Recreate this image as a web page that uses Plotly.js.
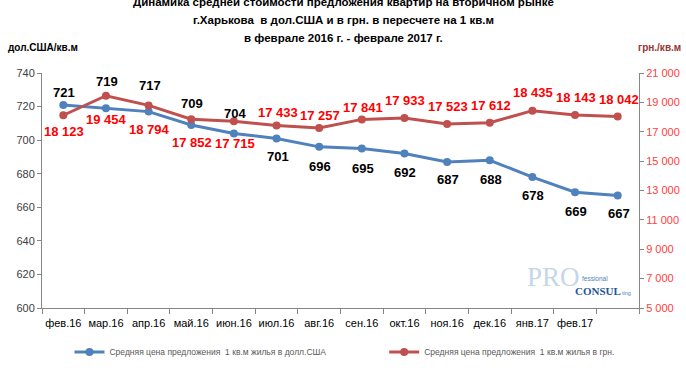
<!DOCTYPE html>
<html>
<head>
<meta charset="utf-8">
<script src="https://cdn.plot.ly/plotly-3.0.1.min.js"></script>
<style>html,body{margin:0;padding:0;background:#fff;}#chart{width:686px;height:386px;}</style>
</head>
<body>
<div id="chart"></div>
<script>
// ---- data ----
var categories = ['фев.16','мар.16','апр.16','май.16','июн.16','июл.16','авг.16','сен.16','окт.16','ноя.16','дек.16','янв.17','фев.17',' '];
var usdValues = [721, 719, 717, 709, 704, 701, 696, 695, 692, 687, 688, 678, 669, 667];
var uahValues = [18123, 19454, 18794, 17852, 17715, 17433, 17257, 17841, 17933, 17523, 17612, 18435, 18143, 18042];
var seriesNames = ['Средняя цена предложения  1 кв.м жилья в долл.США', 'Средняя цена предложения  1 кв.м жилья в грн.'];
var titleLines = ['Динамика средней стоимости предложения квартир на вторичном рынке', 'г.Харькова  в дол.США и в грн. в пересчете на 1 кв.м', 'в феврале 2016 г. - феврале 2017 г.'];
var leftAxisTitle = 'дол.США/кв.м';
var rightAxisTitle = 'грн./кв.м';

// ---- label placement (style: pixel shifts of each data label from its point, + is up) ----
var usdLabelShift = [12, 27, 26, 22, 20, -18, -20, -20, -19, -18, -19, -18, -19, -18];
var uahLabelShift = [-16, -24, -24, -23, -22, 13, 12, 12, 18, 18, 17, 18, 17, 17];

function fmt(v){ return String(v).replace(/\B(?=(\d{3})+(?!\d))/g, ' '); }

var F = 'Liberation Sans, Arial, sans-serif';

var traces = [
  {
    x: categories, y: usdValues, name: seriesNames[0], type: 'scatter', mode: 'lines+markers', legend: 'legend',
    line: {color: '#4F81BD', width: 3}, marker: {color: '#4F81BD', size: 8},
    cliponaxis: false, hoverinfo: 'skip'
  },
  {
    x: categories, y: uahValues, name: seriesNames[1], type: 'scatter', mode: 'lines+markers', yaxis: 'y2', legend: 'legend2',
    line: {color: '#C0504D', width: 3}, marker: {color: '#C0504D', size: 8},
    cliponaxis: false, hoverinfo: 'skip'
  }
];

var L = 41.5, R = 639, T = 73, B = 308;
function px(x){ return (x - L) / (R - L); }
function py(y){ return (B - y) / (B - T); }

var annotations = [];
usdValues.forEach(function(v, i){
  annotations.push({text: fmt(v), xref: 'x', yref: 'y', x: categories[i], y: v, yshift: usdLabelShift[i], xshift: 1,
    xanchor: 'center', yanchor: 'middle', showarrow: false,
    font: {family: F, size: 13, color: '#000000', weight: 'bold'}});
});
uahValues.forEach(function(v, i){
  annotations.push({text: fmt(v), xref: 'x', yref: 'y2', x: categories[i], y: v, yshift: uahLabelShift[i], xshift: 1,
    xanchor: 'center', yanchor: 'middle', showarrow: false,
    font: {family: F, size: 13, color: '#FF0000', weight: 'bold'}});
});
titleLines.forEach(function(t, i){
  annotations.push({text: t, xref: 'paper', yref: 'paper', x: px(343), y: py(2 + 18*i), xanchor: 'center', yanchor: 'middle',
    showarrow: false, font: {family: F, size: 11.5, color: '#000000', weight: 'bold'}});
});
annotations.push({text: leftAxisTitle, xref: 'paper', yref: 'paper', x: px(5), y: py(47), xanchor: 'left', yanchor: 'middle',
  showarrow: false, font: {family: F, size: 10, color: '#000000', weight: 'bold'}});
annotations.push({text: rightAxisTitle, xref: 'paper', yref: 'paper', x: px(683), y: py(47), xanchor: 'right', yanchor: 'middle',
  showarrow: false, font: {family: F, size: 10, color: '#953735', weight: 'bold'}});
// watermark logo
annotations.push({text: 'PRO', xref: 'paper', yref: 'paper', x: px(553), y: py(277), xanchor: 'center', yanchor: 'middle',
  showarrow: false, font: {family: 'Liberation Serif, serif', size: 27, color: '#C6D6EA'}});
annotations.push({text: 'fessional', xref: 'paper', yref: 'paper', x: px(595), y: py(278), xanchor: 'center', yanchor: 'middle',
  showarrow: false, font: {family: F, size: 6.5, color: '#4F81BD'}});
annotations.push({text: 'CONSUL', xref: 'paper', yref: 'paper', x: px(598), y: py(291), xanchor: 'center', yanchor: 'middle',
  showarrow: false, font: {family: 'Liberation Serif, serif', size: 11, color: '#1F5597', weight: 'bold'}});
annotations.push({text: 'ting', xref: 'paper', yref: 'paper', x: px(626), y: py(293), xanchor: 'center', yanchor: 'middle',
  showarrow: false, font: {family: F, size: 5.5, color: '#4F81BD'}});

var legendStyle = function(xpix){
  return {orientation: 'h', x: px(xpix), y: py(352), xanchor: 'left', yanchor: 'middle',
    font: {family: F, size: 8.5, color: '#595959'}, bgcolor: 'rgba(0,0,0,0)', borderwidth: 0};
};

var layout = {
  width: 686, height: 386,
  margin: {l: L, r: 686 - R, t: T, b: 386 - B, pad: 0},
  paper_bgcolor: '#ffffff', plot_bgcolor: '#ffffff',
  separators: ', ',
  font: {family: F, size: 11, color: '#404040'},
  showlegend: true,
  legend: legendStyle(69),
  legend2: legendStyle(384),
  xaxis: {type: 'category', range: [-0.5, 13.5], tickson: 'boundaries', ticks: 'outside', ticklen: 5, tickcolor: '#868686',
    tickangle: 0, ticklabelstandoff: 5, showline: true, linecolor: '#868686', linewidth: 1, showgrid: false, zeroline: false,
    tickfont: {family: F, size: 11, color: '#000000'}, fixedrange: true},
  yaxis: {range: [600, 740], dtick: 20, tick0: 600, ticks: 'outside', ticklen: 4, tickcolor: '#868686',
    showline: true, linecolor: '#868686', linewidth: 1, showgrid: false, zeroline: false,
    tickfont: {family: F, size: 11, color: '#404040'}, fixedrange: true},
  yaxis2: {overlaying: 'y', side: 'right', range: [5000, 21000], dtick: 2000, tick0: 5000, ticks: 'outside', ticklen: 4, tickcolor: '#868686',
    showline: true, linecolor: '#868686', linewidth: 1, showgrid: false, zeroline: false, separatethousands: true, tickformat: ',d',
    tickfont: {family: F, size: 11, color: '#FF4040'}, fixedrange: true},
  annotations: annotations
};

Plotly.newPlot('chart', traces, layout, {displayModeBar: false, staticPlot: true});
</script>
</body>
</html>
